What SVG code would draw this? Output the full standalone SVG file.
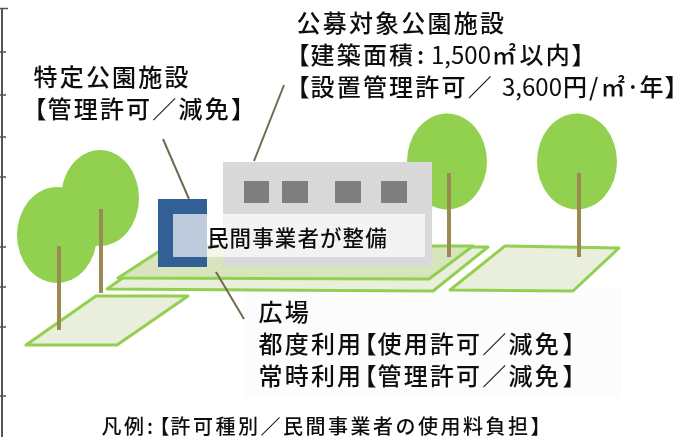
<svg xmlns="http://www.w3.org/2000/svg" width="680" height="439" viewBox="0 0 680 439">
<defs><style>
text{font-family:"Noto Sans CJK JP","Noto Sans",sans-serif;fill:#111;font-weight:500}
.big{font-size:24px;letter-spacing:2.2px}
.mid{font-size:21.500px;letter-spacing:1.100px}
.small{font-size:20px;letter-spacing:2.500px}
.p{font-feature-settings:"palt";letter-spacing:0}
.d{letter-spacing:0;font-weight:400}
.leaf{fill:#92d050}
.trunk{fill:#9c8a52}
.lot{fill:#e9efdc;stroke:#92d050;stroke-width:3;stroke-linejoin:round}
.win{fill:#7f7f7f}
.lead{stroke:#6f6a4f;stroke-width:2;fill:none}
.tick{stroke:#555;stroke-width:1.500}
</style>
<filter id="soft" x="0" y="0" width="100%" height="100%"><feGaussianBlur stdDeviation="0.4"/></filter>
</defs>
<rect width="680" height="439" fill="#fff"/>
<g filter="url(#soft)">
<g id="axis">
<line x1="2" y1="8" x2="2" y2="437" stroke="#555" stroke-width="2"/>
<path class="tick" d="M0 8.500H8M0 52H6M0 95H6M0 137H6M0 177H6M0 247H6M0 287H6M0 327H6M0 396H6"/>
</g>
<rect x="243" y="288" width="379" height="110" fill="#fcfcfc"/>
<g id="plaza-left"><polygon class="lot" points="26,345 96,296 188,296 117,345"/></g>
<g id="plaza-right"><polygon class="lot" points="450,290 505,246 619,248 573,291"/></g>
<g id="plaza-center">
<polygon class="lot" points="107,289 167,247 488,247 433,291"/>
<polygon class="lot" points="118,278 158,252 190,246 473,246 429,279" style="fill:#d8e4bc"/>
</g>
<g id="tree-1"><ellipse class="leaf" cx="100" cy="198" rx="39" ry="48"/><rect class="trunk" x="99" y="209" width="4" height="84"/></g>
<g id="tree-2"><ellipse class="leaf" cx="57" cy="235" rx="40" ry="48"/><rect class="trunk" x="57" y="246" width="4" height="84"/></g>
<g id="tree-3"><ellipse class="leaf" cx="447" cy="161.500" rx="40" ry="48"/><rect class="trunk" x="447" y="173" width="4" height="84"/></g>
<g id="tree-4"><ellipse class="leaf" cx="577" cy="161.500" rx="40" ry="48"/><rect class="trunk" x="577" y="173" width="4" height="84"/></g>
<g id="building">
<rect x="223" y="162" width="209" height="104" fill="#d9d9d9"/>
<rect class="win" x="244" y="181" width="25" height="22"/>
<rect class="win" x="282" y="181" width="26" height="22"/>
<rect class="win" x="335" y="181" width="26" height="22"/>
<rect class="win" x="381" y="181" width="26" height="22"/>
</g>
<g id="specific-facility"><rect x="158" y="199" width="49" height="68" fill="#335f95"/></g>
<g id="private-label">
<rect x="173" y="214" width="252" height="43" fill="#fff" fill-opacity="0.68"/>
<text class="mid" x="207" y="246">民間事業者が整備</text>
</g>
<g id="connectors">
<line class="lead" x1="163" y1="139" x2="189" y2="199"/>
<line class="lead" x1="284" y1="85" x2="254" y2="161"/>
<line class="lead" x1="216" y1="272" x2="244" y2="319"/>
</g>
<g id="label-specific">
<text class="big" x="33.500" y="86">特定公園施設</text>
<text class="big" y="118"><tspan class="p" x="34">【</tspan><tspan x="47.500">管理許可／減免</tspan><tspan class="p" x="231.500">】</tspan></text>
</g>
<g id="label-public">
<text class="big" x="296.500" y="32">公募対象公園施設</text>
<text class="big" y="64"><tspan class="p" x="297">【</tspan><tspan x="310.500">建築面積</tspan><tspan class="p" x="417">:</tspan><tspan class="d" x="431">1,500</tspan><tspan class="p" x="492">㎡</tspan><tspan x="519.500">以内</tspan><tspan class="p" x="572">】</tspan></text>
<text class="big" y="96"><tspan class="p" x="297">【</tspan><tspan x="310.500">設置管理許可／</tspan><tspan class="d" x="502">3,600</tspan><tspan class="p" x="563">円</tspan><tspan class="p" x="589">/</tspan><tspan class="p" x="601">㎡</tspan><tspan class="p" x="626">·</tspan><tspan x="639.500">年</tspan><tspan class="p" x="665">】</tspan></text>
</g>
<g id="label-plaza">
<text class="big" x="258.500" y="321">広場</text>
<text class="big" y="353"><tspan x="258.500">都度利用</tspan><tspan class="p" x="364">【</tspan><tspan x="377.500">使用許可／減免</tspan><tspan class="p" x="563">】</tspan></text>
<text class="big" y="385"><tspan x="258.500">常時利用</tspan><tspan class="p" x="364">【</tspan><tspan x="377.500">管理許可／減免</tspan><tspan class="p" x="563">】</tspan></text>
</g>
<g id="legend">
<text class="small" y="434"><tspan x="101.500">凡例</tspan><tspan class="p" x="147">:</tspan><tspan class="p" x="159">【</tspan><tspan x="170.500">許可種別／民間事業者の使用料負担</tspan><tspan class="p" x="531">】</tspan></text>
</g>
</g>
</svg>
